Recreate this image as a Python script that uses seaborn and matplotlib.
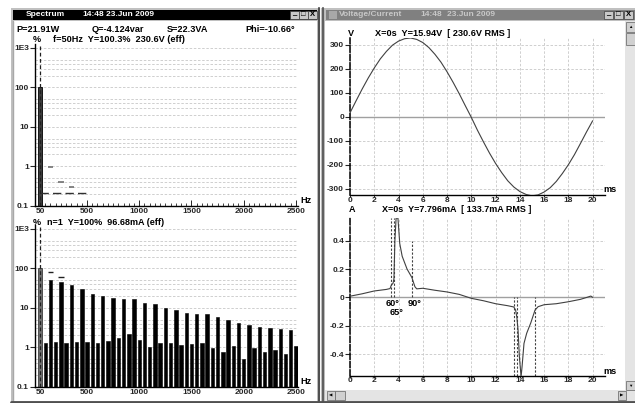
import numpy as np
import pandas as pd
import matplotlib
matplotlib.use("Agg")
import matplotlib.pyplot as plt
import seaborn as sns
from matplotlib.patches import Rectangle
from matplotlib.ticker import FixedLocator, FixedFormatter, LogLocator, NullFormatter

# ---------------- data ----------------
harmonic_n = list(range(1, 51))
harmonic_hz = [n * 50 for n in harmonic_n]

# voltage spectrum: only the fundamental is above 0.1 %
voltage_hz = [50]
voltage_pct = [100.3]
volt_limit_hz = [150, 250, 350]
volt_limit_pct = [0.95, 0.4, 0.3]
volt_floor_pct = 0.21
volt_floor_hz = [50, 525]

current_pct = [100, 1.31, 51, 1.35, 44, 1.31, 37.6, 1.4, 30, 1.4,
               22.4, 1.31, 19.5, 1.47, 17.4, 1.76, 16.8, 2.2, 16.8, 1.54,
               13.3, 1.02, 12.3, 1.31, 10, 1.31, 8.9, 1.17, 7.5, 1.24,
               6.9, 1.29, 6.9, 0.98, 5.9, 0.78, 5.05, 1.06, 4.07, 0.49,
               3.6, 0.98, 3.3, 0.76, 3.15, 0.84, 2.93, 0.69, 2.76, 1.06]
curr_limit_hz = [150, 250]
curr_limit_pct = [82, 59]

spec_xticks = [50, 500, 1000, 1500, 2000, 2500]
spec_yticks = [0.1, 1, 10, 100, 1000]
spec_ylabels = ["0.1", "1", "10", "100", "1E3"]

time_v = [0, 0.5, 1, 1.5, 2, 2.5, 3, 3.5, 4, 4.5, 5, 5.5, 6, 6.5, 7, 7.5, 8, 8.5, 9, 9.5,
          10, 10.5, 11, 11.5, 12, 12.5, 13, 13.5, 14, 14.5, 15, 15.5, 16, 16.5, 17, 17.5,
          18, 18.5, 19, 19.5, 20]
volt_v = [16, 66, 115, 161, 203, 241, 272, 298, 315, 325, 328, 322, 309, 288, 260, 227,
          187, 143, 96, 46, -3, -56, -105, -152, -195, -233, -267, -293, -312, -324,
          -330, -326, -314, -296, -270, -237, -200, -158, -111, -63, -17]

time_i = [0, 1, 2, 3, 3.3, 3.4, 3.55, 3.62, 3.7, 3.8, 3.95, 4.0, 4.1, 4.3, 4.7, 5.1,
          5.35, 5.5, 6, 7, 8, 9, 10, 11, 12, 13, 13.5, 13.65, 13.75, 13.85, 13.96, 14.1,
          14.18, 14.34, 14.56, 14.9, 15.25, 15.5, 16, 17, 18, 19, 19.6, 19.85, 20]
curr_a = [0.008, 0.025, 0.045, 0.056, 0.062, 0.085, 0.10, 0.13, 0.40, 0.56, 0.56, 0.50,
          0.38, 0.29, 0.20, 0.14, 0.075, 0.06, 0.064, 0.05, 0.038, 0.021, -0.007, -0.024,
          -0.045, -0.059, -0.068, -0.09, -0.14, -0.23, -0.42, -0.56, -0.49, -0.325, -0.254,
          -0.18, -0.09, -0.066, -0.052, -0.045, -0.031, -0.014, 0.002, 0.009, 0.0]

angle_labels = ["60°", "65°", "90°"]
angle_rise_ms = [3.35, 3.6, 5.1]
angle_rise_top = [0.56, 0.56, 0.40]
angle_fall_ms = [13.55, 13.75, 15.25]

# ---------------- figure ----------------
W, H = 635, 403
sns.set_style("white")
plt.rcParams['font.family'] = ['Liberation Sans', 'DejaVu Sans']
FS = 6.6      # body text
HS = 6.5      # headers squeezed under tick labels
TS = 6.0      # title bars
KS = 6.0      # tick labels
fig = plt.figure(figsize=(W / 100, H / 100), dpi=100)
fig.patch.set_facecolor('white')

bg = fig.add_axes([0, 0, 1, 1])
bg.set_xlim(0, W)
bg.set_ylim(H, 0)
bg.axis('off')
bg.set_zorder(0)


def R(x0, y0, x1, y1, fc, ec='none', lw=0, z=1):
    bg.add_patch(Rectangle((x0, y0), x1 - x0, y1 - y0, facecolor=fc, edgecolor=ec, lw=lw, zorder=z))


def T(x, y, s, ha='left', va='center', color='black', size=FS, weight='bold', **kw):
    return bg.text(x, y, s, ha=ha, va=va, color=color, fontsize=size, fontweight=weight,
                   zorder=10, **kw)


def AX(x0, y0, x1, y1):
    a = fig.add_axes([x0 / W, 1 - y1 / H, (x1 - x0) / W, (y1 - y0) / H])
    a.set_facecolor('none')
    a.set_zorder(5)
    return a


# ---- window frames ----
# left window (active)
R(11, 8, 320, 403, '#c0c0c0')
R(13, 9.5, 317, 19.8, '#000000', z=2)
R(13, 21, 317, 401, 'white', z=2)
bg.plot([12.5, 12.5], [21, 401], color='#a8a8a8', lw=1, zorder=3)
bg.plot([11, 320], [402, 402], color='#505050', lw=2, zorder=3)
bg.plot([319, 319], [8, 403], color='#505050', lw=1.5, zorder=3)
# right window (inactive)
R(321, 8, 635, 403, '#c0c0c0')
R(326, 9.5, 635, 19.8, '#808080', z=2)
R(325, 21, 625, 390, 'white', z=2)
bg.plot([322.5, 322.5], [8, 403], color='#606060', lw=1.5, zorder=3)
bg.plot([321, 635], [402, 402], color='#505050', lw=2, zorder=3)
R(625, 21, 635, 390, '#e4e4e4', z=2)       # vertical scroll bar
R(325, 390, 635, 401, '#e4e4e4', z=2)      # horizontal scroll bar
for (x0, y0, x1, y1) in [(626, 22, 635, 32), (626, 33, 635, 45), (626, 381, 635, 390),
                         (327, 391, 335, 400), (335, 391, 345, 400), (618, 391, 626, 400)]:
    R(x0, y0, x1, y1, '#d0d0d0', ec='#606060', lw=0.5, z=3)
T(630.5, 27, "▲", ha='center', size=3.2, weight='normal')
T(630.5, 385.5, "▼", ha='center', size=3.2, weight='normal')
T(331, 395.5, "◀", ha='center', size=3.2, weight='normal')
T(622, 395.5, "▶", ha='center', size=3.2, weight='normal')

# title bar buttons
for bx in [290, 299, 308]:
    R(bx, 11, bx + 8.5, 18.5, '#c8c8c8', ec='#404040', lw=0.5, z=3)
for bx in [604, 614, 624]:
    R(bx, 11, bx + 9, 18.5, '#c8c8c8', ec='#404040', lw=0.5, z=3)
for (a, b, c) in [(294.2, 303.2, 312.2), (608.5, 618.5, 628.5)]:
    T(a, 14, "_", ha='center', size=5.5)
    T(b, 14.8, "□", ha='center', size=5.5, weight='normal')
    T(c, 14.8, "X", ha='center', size=5.5)

T(26, 14.8, "Spectrum", color='white', size=TS)
T(82, 14.8, "14:48", color='white', size=TS)
T(106, 14.8, "23.Jun 2009", color='white', size=TS)
R(329, 11, 337, 18.5, '#a8a8a8', z=3)
T(339, 14.8, "Voltage/Current", color='#c8c8c8', size=TS)
T(420, 14.8, "14:48", color='#c8c8c8', size=TS)
T(447, 14.8, "23.Jun 2009", color='#c8c8c8', size=TS)

# ---- header texts ----
T(16, 29.5, "P=21.91W")
T(92, 29.5, "Q=-4.124var")
T(167, 29.5, "S=22.3VA")
T(245, 29.5, "Phi=-10.66°")
T(33, 39.5, "%")
T(53, 39.5, "f=50Hz  Y=100.3%  230.6V (eff)")
T(33, 222.5, "%", size=HS)
T(47, 222.5, "n=1  Y=100%  96.68mA (eff)", size=HS)
T(300, 200.5, "Hz")
T(300, 381.5, "Hz")

T(348, 33, "V")
T(375, 33, "X=0s  Y=15.94V  [ 230.6V RMS ]")
T(349, 210, "A", size=HS)
T(382, 210, "X=0s  Y=7.796mA  [ 133.7mA RMS ]", size=HS)
T(603, 190, "ms")
T(603, 371.5, "ms")

GRID = '#c8c8c8'
DASH = (0, (3, 2))


def style_spectrum(ax):
    ax.set_yscale('log')
    ax.set_xlim(0, 2520)
    ax.set_ylim(0.1, 1260)
    sns.despine(ax=ax)
    for s in ['left', 'bottom']:
        ax.spines[s].set_color('black')
        ax.spines[s].set_linewidth(1.0)
    ax.yaxis.set_major_locator(FixedLocator(spec_yticks))
    ax.yaxis.set_major_formatter(FixedFormatter(spec_ylabels))
    ax.yaxis.set_minor_locator(LogLocator(base=10, subs=[2, 3, 4, 5]))
    ax.yaxis.set_minor_formatter(NullFormatter())
    ax.xaxis.set_major_locator(FixedLocator(spec_xticks))
    ax.xaxis.set_major_formatter(FixedFormatter([str(v) for v in spec_xticks]))
    ax.xaxis.set_minor_locator(FixedLocator(harmonic_hz))
    ax.grid(axis='y', which='both', color=GRID, ls=DASH, lw=0.6)
    ax.grid(axis='x', visible=False)
    ax.tick_params(axis='y', which='major', direction='out', length=3.5, width=0.8,
                   pad=0.8, labelsize=KS, left=True)
    ax.tick_params(axis='y', which='minor', length=0)
    ax.tick_params(axis='x', which='major', direction='in', length=4, width=0.7,
                   pad=2.0, labelsize=KS, bottom=True)
    ax.tick_params(axis='x', which='minor', direction='in', length=2.5, width=0.6, bottom=True)
    for lab in ax.get_xticklabels() + ax.get_yticklabels():
        lab.set_fontweight('bold')
    ax.set_xlabel('')
    ax.set_ylabel('')


# -------- voltage spectrum --------
ax1 = AX(34.8, 44, 298, 205.7)
ax1.set_yscale('log')
dfv = pd.DataFrame({'hz': voltage_hz, 'pct': voltage_pct})
sns.barplot(data=dfv, x='hz', y='pct', native_scale=True, width=33, color='#3c3c3c',
            edgecolor='black', linewidth=0.6, ax=ax1, zorder=2)
style_spectrum(ax1)
ax1.hlines(volt_limit_pct, [h - 25 for h in volt_limit_hz], [h + 25 for h in volt_limit_hz],
           color='#707070', lw=1.2, zorder=3)
ax1.hlines(volt_floor_pct, volt_floor_hz[0], volt_floor_hz[1], color='#303030', lw=1.0,
           ls=(0, (6, 3)), zorder=3)
ax1.axvline(50, color='#202020', ls=DASH, lw=0.9, zorder=4)

# -------- current spectrum --------
ax2 = AX(34.8, 225, 298, 386.7)
ax2.set_yscale('log')
dfi = pd.DataFrame({'hz': harmonic_hz, 'pct': current_pct})
sns.barplot(data=dfi, x='hz', y='pct', native_scale=True, width=0.66, color='black',
            edgecolor='black', linewidth=0.4, ax=ax2, zorder=2)
ax2.patches[0].set_facecolor('#707070')
style_spectrum(ax2)
ax2.hlines(curr_limit_pct, [h - 25 for h in curr_limit_hz], [h + 25 for h in curr_limit_hz],
           color='#202020', lw=1.0, zorder=3)
ax2.axvline(50, color='#202020', ls=DASH, lw=0.9, zorder=4)


def style_time(ax, yticks, ylabels, ylim):
    ax.set_xlim(0, 21)
    ax.set_ylim(*ylim)
    sns.despine(ax=ax)
    ax.spines['left'].set_color('black')
    ax.spines['left'].set_linestyle((0, (4, 1.5)))
    ax.spines['left'].set_linewidth(1.1)
    ax.spines['bottom'].set_color('black')
    ax.spines['bottom'].set_linewidth(1.0)
    ax.set_xticks(list(range(0, 21, 2)))
    ax.set_xticklabels([str(v) for v in range(0, 21, 2)])
    ax.set_yticks(yticks)
    ax.set_yticklabels(ylabels)
    ax.grid(True, color=GRID, ls=DASH, lw=0.6)
    ax.tick_params(axis='y', direction='out', length=3.5, width=0.8, pad=0.8,
                   labelsize=KS, left=True)
    ax.tick_params(axis='x', direction='out', length=1.2, width=0.7, pad=0.0,
                   labelsize=KS, bottom=True)
    for lab in ax.get_xticklabels() + ax.get_yticklabels():
        lab.set_fontweight('bold')
    ax.axhline(0, color='#a0a0a0', lw=1.0, zorder=1)
    ax.set_xlabel('')
    ax.set_ylabel('')


# -------- voltage waveform --------
ax3 = AX(350, 37.5, 604.8, 194.9)
sns.lineplot(x=time_v, y=volt_v, ax=ax3, color='#404040', lw=0.8, zorder=3)
style_time(ax3, list(range(-300, 301, 100)), [str(v) for v in range(-300, 301, 100)],
           (-326, 330))

# -------- current waveform --------
ax4 = AX(350, 218, 604.8, 375.7)
sns.lineplot(x=time_i, y=curr_a, ax=ax4, color='#404040', lw=0.8, zorder=3)
style_time(ax4, [-0.4, -0.2, 0, 0.2, 0.4], ["-0.4", "-0.2", "0", "0.2", "0.4"],
           (-0.553, 0.56))
ax4.vlines(angle_rise_ms, 0, angle_rise_top, color='#404040', ls=(0, (2, 1.5)), lw=0.8, zorder=2)
ax4.vlines(angle_fall_ms, -0.553, 0, color='#404040', ls=(0, (2, 1.5)), lw=0.8, zorder=2)
T(386, 303, angle_labels[0])
T(390, 312.5, angle_labels[1])
T(408, 303, angle_labels[2])

fig.savefig('out.png', dpi=100, facecolor=fig.get_facecolor())
